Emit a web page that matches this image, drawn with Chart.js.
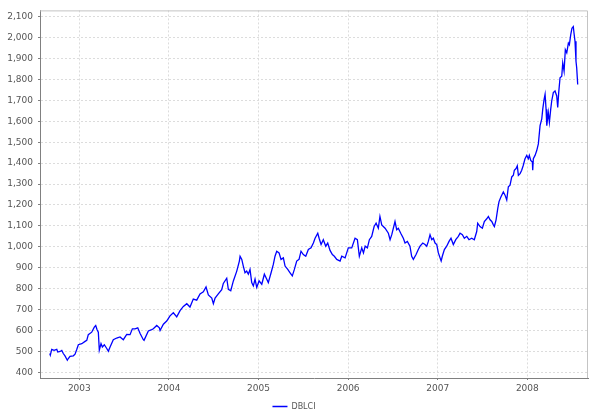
<!DOCTYPE html>
<html><head><meta charset="utf-8">
<script src="https://cdn.jsdelivr.net/npm/chart.js@4"></script>
<style>html,body{margin:0;padding:0;background:#fff}</style>
</head><body>
<canvas id="c" width="593" height="419"></canvas>
<script>
const seriesName = 'DBLCI';
const dates = [
2002.670,2002.676,2002.692,2002.718,2002.748,2002.759,2002.785,2002.804,2002.821,2002.840,
2002.866,2002.877,2002.896,2002.933,2002.952,2002.971,2002.989,2003.027,2003.064,2003.083,
2003.100,2003.138,2003.167,2003.183,2003.198,2003.212,2003.223,2003.242,2003.257,2003.279,
2003.306,2003.324,2003.343,2003.379,2003.417,2003.454,2003.491,2003.529,2003.566,2003.592,
2003.622,2003.652,2003.677,2003.714,2003.722,2003.770,2003.808,2003.826,2003.864,2003.893,
2003.901,2003.938,2003.975,2004.012,2004.049,2004.087,2004.124,2004.161,2004.199,2004.235,
2004.272,2004.310,2004.347,2004.384,2004.414,2004.440,2004.478,2004.496,2004.515,2004.551,
2004.589,2004.607,2004.645,2004.663,2004.690,2004.719,2004.757,2004.786,2004.794,2004.813,
2004.830,2004.849,2004.868,2004.886,2004.905,2004.924,2004.942,2004.961,2004.980,2005.006,
2005.036,2005.065,2005.092,2005.109,2005.140,2005.165,2005.184,2005.203,2005.229,2005.251,
2005.277,2005.296,2005.326,2005.352,2005.377,2005.400,2005.426,2005.452,2005.474,2005.500,
2005.527,2005.556,2005.586,2005.612,2005.631,2005.661,2005.676,2005.698,2005.723,2005.750,
2005.772,2005.798,2005.824,2005.846,2005.873,2005.910,2005.929,2005.966,2006.002,2006.040,
2006.077,2006.103,2006.125,2006.152,2006.171,2006.190,2006.215,2006.237,2006.263,2006.290,
2006.312,2006.337,2006.355,2006.375,2006.412,2006.449,2006.468,2006.487,2006.523,2006.542,
2006.560,2006.587,2006.616,2006.635,2006.661,2006.690,2006.709,2006.728,2006.758,2006.783,
2006.803,2006.833,2006.858,2006.877,2006.895,2006.914,2006.933,2006.951,2006.970,2006.989,
2007.007,2007.026,2007.038,2007.051,2007.074,2007.100,2007.126,2007.148,2007.174,2007.201,
2007.230,2007.249,2007.275,2007.297,2007.324,2007.349,2007.379,2007.408,2007.435,2007.446,
2007.472,2007.498,2007.520,2007.547,2007.565,2007.584,2007.603,2007.621,2007.632,2007.651,
2007.670,2007.684,2007.706,2007.732,2007.751,2007.770,2007.788,2007.807,2007.826,2007.844,
2007.855,2007.874,2007.888,2007.900,2007.919,2007.937,2007.955,2007.974,2007.993,2008.011,
2008.022,2008.038,2008.056,2008.060,2008.067,2008.086,2008.105,2008.123,2008.142,2008.161,
2008.172,2008.187,2008.198,2008.209,2008.217,2008.234,2008.246,2008.261,2008.272,2008.290,
2008.309,2008.328,2008.339,2008.350,2008.365,2008.384,2008.395,2008.410,2008.424,2008.440,
2008.458,2008.469,2008.484,2008.498,2008.513,2008.521,2008.532,2008.543,2008.551,2008.562
];
const values = [
490,482,510,505,510,497,500,505,490,479,
458,466,477,479,487,509,532,537,548,553,
580,592,616,624,604,592,506,537,521,532,
514,501,521,556,564,569,556,581,580,608,
608,613,587,556,553,598,604,608,624,613,
600,630,645,670,685,665,695,715,728,712,
750,745,775,785,808,770,755,728,755,775,
795,825,850,797,790,837,884,932,955,940,
908,876,884,869,892,829,813,845,806,837,
821,869,845,829,876,916,955,979,971,940,
947,908,892,876,861,892,932,940,979,963,
955,987,995,1018,1041,1065,1041,1011,1034,1003,
1018,983,963,955,940,932,955,947,995,995,
1041,1034,955,995,971,1003,995,1034,1050,1097,
1113,1089,1145,1105,1089,1065,1034,1058,1121,1082,
1089,1065,1041,1018,1026,1003,955,940,963,987,
1003,1018,1011,1003,1026,1058,1034,1041,1018,1011,
971,947,932,955,987,1003,1026,1041,1011,1034,
1050,1065,1058,1041,1050,1034,1041,1034,1073,1113,
1097,1089,1121,1134,1145,1129,1121,1105,1097,1129,
1184,1216,1239,1262,1247,1224,1287,1295,1334,1342,
1366,1374,1387,1342,1350,1366,1390,1421,1437,1421,
1437,1413,1405,1366,1421,1437,1460,1492,1579,1611,
1658,1705,1729,1658,1579,1642,1595,1658,1697,1737,
1745,1721,1666,1737,1808,1815,1879,1840,1942,1927,
1974,1966,2013,2045,2053,2021,1982,1887,1855,1776
];
const yearTicks = [2003, 2004, 2005, 2006, 2007, 2008];
const valueTicks = [400,500,600,700,800,900,1000,1100,1200,1300,1400,1500,1600,1700,1800,1900,2000,2100];

const points = dates.map((d, i) => ({x: d, y: values[i]}));
const tickFont = {family: 'DejaVu Sans', size: 9};

const outline = {
  id: 'outline',
  beforeDraw(chart) {
    const {ctx} = chart;
    ctx.save();
    ctx.fillStyle = '#fff';
    ctx.fillRect(0, 0, chart.width, chart.height);
    ctx.restore();
  },
  afterDatasetsDraw(chart) {
    const {ctx, chartArea: a} = chart;
    ctx.save();
    ctx.strokeStyle = '#c4c4c4';
    ctx.lineWidth = 1;
    ctx.beginPath();
    ctx.moveTo(a.left, a.top + 0.5);
    ctx.lineTo(a.right - 0.5, a.top + 0.5);
    ctx.lineTo(a.right - 0.5, a.bottom);
    ctx.stroke();
    ctx.restore();
  }
};

new Chart(document.getElementById('c'), {
  type: 'line',
  data: {
    datasets: [{
      label: seriesName,
      data: points,
      borderColor: '#0000ff',
      backgroundColor: '#0000ff',
      borderWidth: 1.3,
      pointRadius: 0,
      tension: 0,
      fill: false
    }]
  },
  options: {
    responsive: false,
    animation: false,
    devicePixelRatio: 1,
    layout: {padding: {top: 7, right: 5, left: 0, bottom: -1.5}},
    plugins: {
      tooltip: {enabled: false},
      legend: {
        position: 'bottom',
        labels: {
          usePointStyle: true,
          pointStyle: 'line',
          pointStyleWidth: 15,
          font: {family: 'DejaVu Sans', size: 8},
          color: '#555',
          padding: 6
        }
      }
    },
    scales: {
      x: {
        type: 'linear',
        min: 2002.561,
        max: 2008.677,
        afterBuildTicks: s => { s.ticks = yearTicks.map(v => ({value: v})); },
        afterFit: s => { s.height = 18.5; },
        ticks: {callback: v => String(v), font: tickFont, color: '#555', padding: 3, maxRotation: 0, autoSkip: false},
        grid: {color: '#dcdcdc', lineWidth: 1, tickLength: 2, tickColor: '#808080', tickBorderDash: []},
        border: {color: '#808080', width: 1, dash: [2, 2]}
      },
      y: {
        type: 'linear',
        min: 373,
        max: 2130,
        afterBuildTicks: s => { s.ticks = valueTicks.map(v => ({value: v})); },
        afterFit: s => { s.width = 40; },
        ticks: {callback: v => v.toLocaleString('en-US'), font: tickFont, color: '#555', padding: 5, autoSkip: false},
        grid: {color: '#dcdcdc', lineWidth: 1, tickLength: 2, tickColor: '#808080', tickBorderDash: []},
        border: {color: '#808080', width: 1, dash: [2, 2]}
      }
    }
  },
  plugins: [outline]
});
</script>
</body></html>
